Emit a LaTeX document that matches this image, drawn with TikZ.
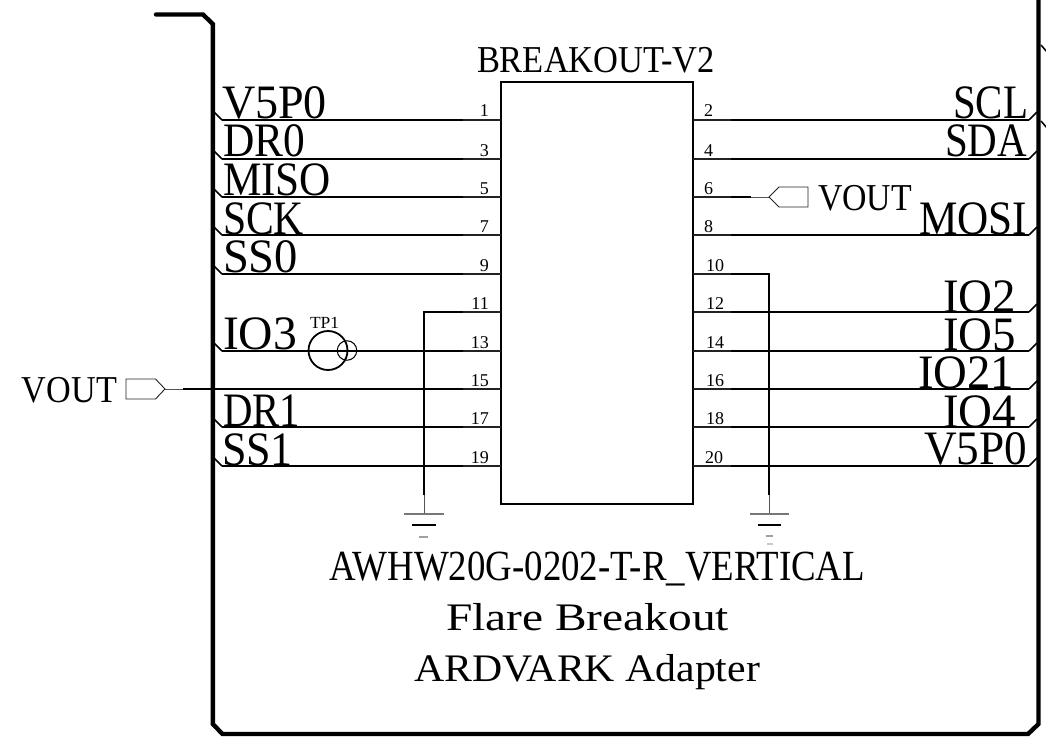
\documentclass[tikz,border=0pt]{standalone}
\usepackage{fontspec}
\usepackage{graphicx}
\setmainfont{Liberation Serif}
\newcommand{\fitw}[3]{\resizebox{#1pt}{\height}{\fontsize{#2}{#2}\selectfont #3}}
\definecolor{pingray}{HTML}{222222}
\definecolor{gndgray}{HTML}{777777}
\tikzset{
  bus/.style={line width=4.4pt,line cap=round,line join=miter},
  wire/.style={line width=2pt,black},
  pinline/.style={line width=1.4pt,pingray},
  thinwire/.style={line width=1pt,gndgray!70!black},
  stub/.style={line width=1.5pt,black},
  lab/.style={inner sep=0pt,outer sep=0pt,anchor=base west},
  lnum/.style={inner sep=0pt,anchor=base east,font=\fontsize{18}{18}\selectfont},
  rnum/.style={inner sep=0pt,anchor=base west,font=\fontsize{18}{18}\selectfont},
  chip/.style={draw=black,line width=1.6pt,inner sep=0pt,minimum width=192pt,minimum height=422pt,fill=none},
  port/.style={draw=pingray,line width=.9pt},
  gndA/.style={line width=2pt,gndgray},
  gndB/.style={line width=1.2pt,black},
  gndC/.style={line width=1.2pt,gndgray!70!white},
  gndD/.style={line width=1.2pt,gndgray!40!white},
}
\begin{document}
\begin{tikzpicture}[x=1pt,y=-1pt]
\useasboundingbox (0,0) rectangle (1046,741);
% named points of the sheet frame
\coordinate (fa) at (156,14.5);
\coordinate (fb) at (203,14.5);
\coordinate (fc) at (212.8,24);
\coordinate (fd) at (212.8,724);
\coordinate (fe) at (222.5,734);
\coordinate (ff) at (1028,734);
\coordinate (fg) at (1038.5,724);
\coordinate (fh) at (1038.5,-3);
\draw[bus] (fa)--(fb)--(fc)--(fd)--(fe)--(ff)--(fg)--(fh);
\coordinate (xa) at (1041,45); \coordinate (xb) at (1047,52);
\coordinate (xc) at (1041,121); \coordinate (xd) at (1047,128);
\draw[stub] (xa)--(xb); \draw[stub] (xc)--(xd);

\node[chip] (U1) at (596.8,293) {};
\node[lab] (title) at (477,73) {\fitw{238}{38}{BREAKOUT-V2}};

% pin points
\foreach \n/\y in {1/120,3/159,5/197,7/235,9/274,11/312,13/351,15/389,17/427,19/466}{
  \coordinate (P\n) at (501,\y);
  \coordinate (K\n) at (463,\y);
  \coordinate (S\n) at (222,\y);
  \coordinate (B\n) at (214,\y-8);
  \node[lnum] (NP\n) at (489,\y-3) {\n};
  \draw[pinline] (P\n)--(K\n);
}
\foreach \n/\y/\xo in {2/120/704,4/159/704,6/197/704,8/235/704,10/274/706,12/312/706,14/351/706,16/389/706,18/427/706,20/466/705}{
  \coordinate (P\n) at (693,\y);
  \coordinate (K\n) at (731,\y);
  \coordinate (S\n) at (1029,\y);
  \coordinate (B\n) at (1037,\y-8);
  \node[rnum] (NP\n) at (\xo,\y-3) {\n};
  \draw[pinline] (P\n)--(K\n);
}
% wires to the frame
\foreach \n in {1,3,5,7,9,13,17,19}{
  \draw[wire] (K\n)--(S\n);
  \draw[stub] (S\n)--(B\n);
}
\foreach \n in {2,4,8,12,14,16,18,20}{
  \draw[wire] (K\n)--(S\n);
  \draw[stub] (S\n)--(B\n);
}
% VOUT left
\coordinate (w15) at (183,389);
\coordinate (tipL) at (165,389);
\draw[wire] (K15)--(w15);
\draw[thinwire] (w15)--(tipL);
\draw[port] (tipL)--(155.5,379)--(126,379)--(126,399)--(155.5,399)--cycle;
\node[lab] (voutL) at (22,402) {\fitw{95}{38}{VOUT}};
% VOUT right
\coordinate (w6) at (751,197);
\coordinate (tipR) at (769,197);
\draw[wire] (K6)--(w6);
\draw[thinwire] (w6)--(tipR);
\draw[port] (tipR)--(779,187)--(808,187)--(808,207)--(779,207)--cycle;
\node[lab] (voutR) at (818,210) {\fitw{94}{38}{VOUT}};
% ground on pin 11
\coordinate (g11a) at (424,312);
\coordinate (g11b) at (424,495);
\coordinate (g11c) at (424,514);
\draw[wire] (K11)--(g11a)--(g11b);
\draw[thinwire] (g11b)--(g11c);
\draw[gndA] (404,514)--(443.5,514);
\draw[gndB] (412,525)--(436,525);
\draw[gndC] (419,537)--(428,537);
% ground on pin 10
\coordinate (g10a) at (769,274);
\coordinate (g10b) at (769,495);
\coordinate (g10c) at (769,514);
\draw[wire] (K10)--(g10a)--(g10b);
\draw[thinwire] (g10b)--(g10c);
\draw[gndA] (750,514)--(789,514);
\draw[gndB] (757.5,525)--(781,525);
\draw[gndC] (766,536)--(772.5,536);
\draw[gndD] (767,544)--(772.5,544);
% test point
\node[draw,circle,line width=1.8pt,minimum size=39pt,inner sep=0pt] (TP) at (328,350.5) {};
\node[draw,circle,line width=1pt,minimum size=19.5pt,inner sep=0pt] (TPb) at (347,350.5) {};
\node[lab] (TPl) at (310,328) {\fitw{29}{17}{TP1}};
% left nets
\node[lab] at (222,119) (n1) {\fitw{105}{48}{V5P0}};
\node[lab] at (223,157) (n3) {\fitw{82}{48}{DR0}};
\node[lab] at (223,195) (n5) {\fitw{108}{48}{MISO}};
\node[lab] at (223,234) (n7) {\fitw{81}{48}{SCK}};
\node[lab] at (223,272) (n9) {\fitw{75}{48}{SS0}};
\node[lab] at (223,349) (n13) {\fitw{74}{48}{IO3}};
\node[lab] at (223,426) (n17) {\fitw{77}{48}{DR1}};
\node[lab] at (222,465) (n19) {\fitw{71}{48}{SS1}};
% right nets
\node[lab] at (953,118) (n2) {\fitw{75}{48}{SCL}};
\node[lab] at (945,157) (n4) {\fitw{82}{48}{SDA}};
\node[lab] at (919,234) (n8) {\fitw{108}{48}{MOSI}};
\node[lab] at (943,312) (n12) {\fitw{73}{48}{IO2}};
\node[lab] at (943,350) (n14) {\fitw{73}{48}{IO5}};
\node[lab] at (918,388) (n16) {\fitw{96}{48}{IO21}};
\node[lab] at (943,427) (n18) {\fitw{73}{48}{IO4}};
\node[lab] at (924,464) (n20) {\fitw{103}{48}{V5P0}};
% captions
\node[lab] at (329,580) (c1) {\fitw{536}{43}{AWHW20G-0202-T-R\_VERTICAL}};
\node[lab] at (446,630) (c2) {\fitw{283}{39}{Flare Breakout}};
\node[lab] at (414,681) (c3) {\fitw{346}{39}{ARDVARK Adapter}};
\end{tikzpicture}
\end{document}
